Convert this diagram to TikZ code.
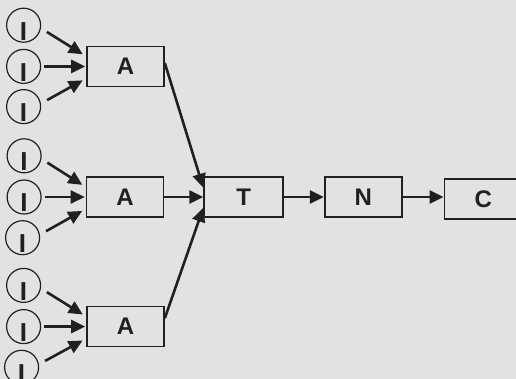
\documentclass[tikz,border=0pt]{standalone}
\usepackage{fontspec}
\setmainfont{Liberation Sans}
\usepackage{tikz}
\usetikzlibrary{arrows.meta,calc,positioning}
\definecolor{paper}{RGB}{225,226,228}
\definecolor{ink}{RGB}{35,31,32}
\tikzset{%
  arrow/.style={line width=2.6pt,-{Triangle[length=14pt,width=13pt]}},
  block/.style={rectangle,draw,line width=1.6pt,minimum width=77pt,minimum height=40pt,inner sep=0pt},
  source/.style={circle,draw,line width=1.2pt,minimum size=34pt,inner sep=0pt,font=\fontsize{26}{28}\selectfont\bfseries},
}
\newcommand{\inp}{\raisebox{-6pt}[\height][\depth]{I}}

\begin{document}
\begin{tikzpicture}[x=1pt,y=1pt,color=ink,font=\fontsize{24}{26}\selectfont\bfseries,node distance=40pt]
      \fill[paper] (0,0) rectangle (516,-379);
      \useasboundingbox (0,0) rectangle (516,-379);

      \node[block] (a2) at (125,-197) {A};
      \node[block,above=89pt of a2,xshift=0.5pt] (a1) {A};
      \node[block,below=88pt of a2,xshift=0.5pt] (a3) {A};
      \node[block,right=39pt of a2,minimum width=79pt] (t) {T};
      \node[block,right=40pt of t,minimum width=77pt] (n) {N};
      \node[block,right=41pt of n,yshift=-2pt,minimum width=78pt] (c) {C};

      % inputs of the upper A
      \node[source,left=45pt of a1] (i12) {\inp};
      \node[source,above=6pt of i12] (i11) {\inp};
      \node[source,below=5pt of i12] (i13) {\inp};
      % inputs of the middle A
      \node[source,left=44pt of a2] (i22) {\inp};
      \node[source,above=6pt of i22] (i21) {\inp};
      \node[source,below=5.5pt of i22,xshift=-1.5pt] (i23) {\inp};
      % inputs of the lower A
      \node[source,left=45pt of a3] (i32) {\inp};
      \node[source,above=6pt of i32] (i31) {\inp};
      \node[source,below=5.5pt of i32,xshift=-2pt] (i33) {\inp};

      \draw[arrow,shorten <=7pt,shorten >=4pt] (i11.-10) -- ($(a1.west)+(0,10)$);
      \draw[arrow,shorten <=3pt,shorten >=1pt] (i12.east) -- (a1.west);
      \draw[arrow,shorten <=7pt,shorten >=4pt] (i13.10) -- ($(a1.west)+(0,-12)$);
      \draw[arrow,shorten <=7pt,shorten >=4pt] (i21.-10) -- ($(a2.west)+(0,10)$);
      \draw[arrow,shorten <=3pt,shorten >=1pt] (i22.east) -- (a2.west);
      \draw[arrow,shorten <=7pt,shorten >=4pt] (i23.10) -- ($(a2.west)+(0,-12)$);
      \draw[arrow,shorten <=7pt,shorten >=4pt] (i31.-10) -- ($(a3.west)+(0,10)$);
      \draw[arrow,shorten <=3pt,shorten >=1pt] (i32.east) -- (a3.west);
      \draw[arrow,shorten <=7pt,shorten >=4pt] (i33.10) -- ($(a3.west)+(0,-12)$);

      \draw[arrow] (a1.5) -- (t.167);
      \draw[arrow] (a2.east) -- (t.west);
      \draw[arrow] (a3.12) -- (t.195);
      \draw[arrow] (t.east) -- (n.west);
      \draw[arrow] (n.east) -- (n.east -| c.west);
    \end{tikzpicture}
\end{document}
